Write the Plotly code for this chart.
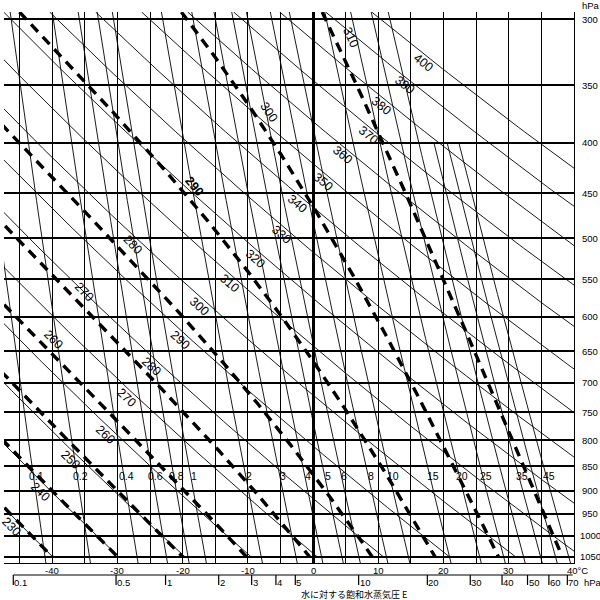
import numpy as np
import plotly.graph_objects as go

# ---------------- data ----------------
pressure_levels = [300, 350, 400, 450, 500, 550, 600, 650, 700, 750, 800, 850, 900, 950, 1000, 1050]
isotherm_values = [-45, -40, -35, -30, -25, -20, -15, -10, -5, 0, 5, 10, 15, 20, 25, 30, 35, 40]
temp_label_values = [-40, -30, -20, -10, 0, 10, 20, 30, 40]
temp_label_text = ["-40", "-30", "-20", "-10", "0", "10", "20", "30", "40°C"]

dry_theta = [230, 240, 250, 260, 270, 280, 290, 300, 310, 320, 330, 340, 350, 360, 370, 380, 390, 400]
dry_label_p = [979, 902, 838, 790, 725, 674, 633, 586, 555, 524, 496, 461, 438, 412, 393, 367, 350, 332]

moist_thetaw = [230, 240, 250, 260, 270, 280, 290, 300, 310]
moist_label_values = [250, 260, 270, 280, 290, 300, 310]
moist_label_p = [682, 633, 566, 508, 443, 372, 313]

mix_full = [0.1, 0.2, 0.4, 0.6, 0.8, 1, 2, 3, 4, 5, 6, 8, 10, 15, 20, 25, 30]
mix_from400 = [35, 40, 45]
mix_label_values = [0.1, 0.2, 0.4, 0.6, 0.8, 1, 2, 3, 4, 5, 6, 8, 10, 15, 20, 25, 35, 45]
mix_label_text = ["0.1", "0.2", "0.4", "0.6", "0.8", "1", "2", "3", "4", "5", "6", "8",
                  "10", "15", "20", "25", "35", "45"]

vapor_values = [0.1, 0.5, 1, 2, 3, 4, 5, 10, 20, 30, 40, 50, 60, 70]
vapor_text = ["0.1", "0.5", "1", "2", "3", "4", "5", "10", "20", "30", "40", "50", "60", "70"]

# ---------------- layout geometry ----------------
W, H = 600, 600
ML, MR, MT, MB = 4, 26, 12, 37
T_MIN, T_MAX = -47.4, 40.0
P_TOP, P_BOT = 295.0, 1065.0
P_ADIABAT_END = 1050.0
PW, PH = W - ML - MR, H - MT - MB
SX = PW / (T_MAX - T_MIN)
SY = PH / np.log(P_BOT / P_TOP)

FONT = "Liberation Sans, DejaVu Sans, Noto Sans CJK JP"

def es_hpa(tc):
    return 6.112 * np.exp(17.67 * tc / (tc + 243.5))

def t_from_es(e):
    l = np.log(e / 6.112)
    return 243.5 * l / (17.67 - l)

def dry_T(theta, p):
    return theta * (p / 1000.0) ** 0.286 - 273.15

def dTdp(p, T):
    tc = T - 273.15
    es = es_hpa(tc)
    rs = 0.622 * es / (p - es)
    Lv, Rd, cp, eps = 2.501e6, 287.04, 1005.7, 0.622
    num = Rd * T + Lv * rs
    den = cp + Lv * Lv * rs * eps / (Rd * T * T)
    return num / den / p

def integrate(T0, p0, p1, n):
    ps = np.linspace(p0, p1, n)
    Ts = [T0]
    T = T0
    for i in range(n - 1):
        h = ps[i + 1] - ps[i]
        p = ps[i]
        k1 = dTdp(p, T)
        k2 = dTdp(p + h / 2, T + h * k1 / 2)
        k3 = dTdp(p + h / 2, T + h * k2 / 2)
        k4 = dTdp(p + h, T + h * k3)
        T = T + h * (k1 + 2 * k2 + 2 * k3 + k4) / 6
        Ts.append(T)
    return ps, np.array(Ts)

def moist_line(thw):
    pu, tu = integrate(float(thw), 1000.0, P_TOP, 400)
    pd, td = integrate(float(thw), 1000.0, P_ADIABAT_END, 40)
    p = np.concatenate([pu[::-1], pd[1:]])
    t = np.concatenate([tu[::-1], td[1:]]) - 273.15
    return p, t

def slope_angle(T1, p1, T2, p2):
    dx = (T2 - T1) * SX
    dy = np.log(p2 / p1) * SY
    return float(np.degrees(np.arctan2(dy, dx)))

fig = go.Figure()

# dry adiabats
xs, ys = [], []
pp_a = np.linspace(P_TOP, P_ADIABAT_END, 200)
for th in dry_theta:
    xs += list(dry_T(th, pp_a)) + [None]
    ys += list(pp_a) + [None]
fig.add_trace(go.Scatter(x=xs, y=ys, mode="lines", line=dict(color="black", width=0.9),
                         hoverinfo="skip", showlegend=False))

# mixing ratio lines
xs, ys = [], []
pp = np.linspace(P_TOP, P_BOT, 200)
for w in mix_full:
    e = w * pp / (622.0 + w)
    xs += list(t_from_es(e)) + [None]
    ys += list(pp) + [None]
pp4 = np.linspace(400, P_BOT, 150)
for w in mix_from400:
    e = w * pp4 / (622.0 + w)
    xs += list(t_from_es(e)) + [None]
    ys += list(pp4) + [None]
fig.add_trace(go.Scatter(x=xs, y=ys, mode="lines", line=dict(color="black", width=0.9),
                         hoverinfo="skip", showlegend=False))

# moist adiabats
moist = {}
xs, ys = [], []
for thw in moist_thetaw:
    p, t = moist_line(thw)
    moist[thw] = (p, t)
    xs += list(t) + [None]
    ys += list(p) + [None]
fig.add_trace(go.Scatter(x=xs, y=ys, mode="lines",
                         line=dict(color="black", width=3.4, dash="10px,7px"),
                         hoverinfo="skip", showlegend=False))

ann = []
LBL = dict(family=FONT, size=12.5, color="black")
# dry adiabat labels
for th, pl in zip(dry_theta, dry_label_p):
    t1 = dry_T(th, pl)
    ang = slope_angle(t1, pl, dry_T(th, pl * 1.02), pl * 1.02)
    ann.append(dict(x=t1, y=np.log10(pl), xref="x", yref="y", text=str(th), showarrow=False,
                    textangle=ang, xshift=-11, font=LBL))

# moist adiabat labels
for thw, pl in zip(moist_label_values, moist_label_p):
    p, t = moist[thw]
    t1 = float(np.interp(pl, p, t))
    t2 = float(np.interp(pl * 1.02, p, t))
    ang = slope_angle(t1, pl, t2, pl * 1.02)
    bold = thw == 290
    ann.append(dict(x=t1, y=np.log10(pl), xref="x", yref="y",
                    text=("<b>%d</b>" % thw) if bold else str(thw), showarrow=False,
                    textangle=ang, xshift=16, font=LBL))

# mixing ratio labels
P_MIXLAB = 870.0
for w, txt in zip(mix_label_values, mix_label_text):
    tl = float(t_from_es(w * P_MIXLAB / (622.0 + w)))
    ann.append(dict(x=tl, y=np.log10(P_MIXLAB), xref="x", yref="y", text=txt, showarrow=False,
                    xshift=3, font=dict(family=FONT, size=10.5, color="black")))

def paper_y(py):
    return (H - MB - py) / PH

AX = dict(family=FONT, size=9.5, color="black")
# temperature labels
for v, txt in zip(temp_label_values, temp_label_text):
    ann.append(dict(x=v, y=paper_y(570), xref="x", yref="paper", text=txt, showarrow=False,
                    xanchor="center", yanchor="middle", xshift=(3 if v == 40 else 0), font=AX))

# pressure labels (right)
for p in pressure_levels:
    ann.append(dict(x=(590 - ML) / PW, y=np.log10(p), xref="paper", yref="y", text=str(p),
                    showarrow=False, xanchor="center", yanchor="middle", font=AX))
ann.append(dict(x=(591 - ML) / PW, y=paper_y(6), xref="paper", yref="paper", text="hPa",
                showarrow=False, xanchor="center", yanchor="middle", font=AX))

# vapor pressure scale
shapes = []
t_first = float(t_from_es(vapor_values[0]))
shapes.append(dict(type="line", xref="x", yref="paper", x0=t_first, x1=T_MAX - 0.2,
                   y0=paper_y(575), y1=paper_y(575), line=dict(color="black", width=1.2)))
for v, txt in zip(vapor_values, vapor_text):
    tv = float(t_from_es(v))
    shapes.append(dict(type="line", xref="x", yref="paper", x0=tv, x1=tv,
                       y0=paper_y(575), y1=paper_y(585), line=dict(color="black", width=1.2)))
    ann.append(dict(x=tv, y=paper_y(582), xref="x", yref="paper", text=txt, showarrow=False,
                    xanchor="left", yanchor="middle", xshift=-1, font=AX))
ann.append(dict(x=(582 - ML) / PW, y=paper_y(582), xref="paper", yref="paper", text="hPa",
                showarrow=False, xanchor="left", yanchor="middle", font=AX))
ann.append(dict(x=(299 - ML) / PW, y=paper_y(594), xref="paper", yref="paper",
                text="水に対する飽和水蒸気圧 E", showarrow=False, xanchor="left", yanchor="middle",
                font=dict(family="Noto Sans CJK JP", size=9, color="black")))

fig.update_layout(
    width=W, height=H, margin=dict(l=ML, r=MR, t=MT, b=MB),
    paper_bgcolor="white", plot_bgcolor="white", showlegend=False,
    annotations=ann, shapes=shapes,
    xaxis=dict(range=[T_MIN, T_MAX], tickvals=isotherm_values, showticklabels=False,
               showgrid=True, gridcolor="black", gridwidth=1.3, ticks="",
               zeroline=True, zerolinecolor="black", zerolinewidth=3,
               showline=True, linecolor="black", linewidth=1.3, fixedrange=True),
    yaxis=dict(type="log", range=[np.log10(P_BOT), np.log10(P_TOP)], tickvals=pressure_levels,
               showticklabels=False, showgrid=True, gridcolor="black", gridwidth=1.5, ticks="",
               side="right", showline=True, linecolor="black", linewidth=1.3,
               zeroline=False, fixedrange=True),
)

fig.write_html("out.html", config={"displayModeBar": False},
               post_script="document.body.style.margin='0px';")
